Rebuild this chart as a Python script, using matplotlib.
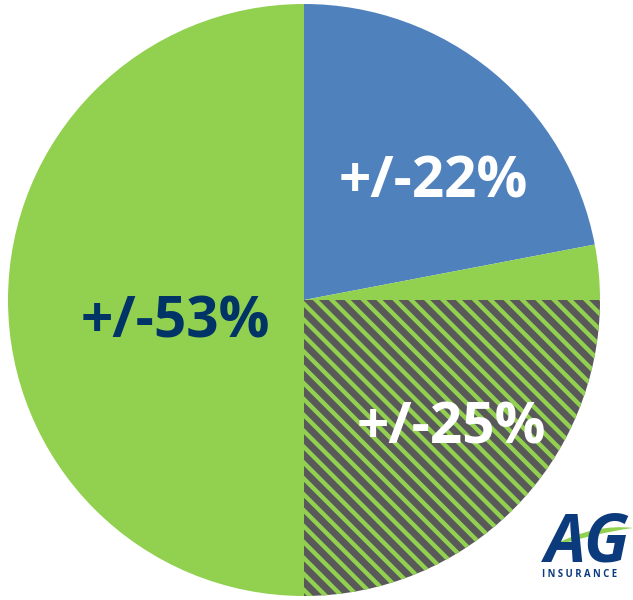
import matplotlib
matplotlib.use("Agg")
import matplotlib.pyplot as plt
from matplotlib.path import Path
from matplotlib.patches import PathPatch

# slices clockwise from 12 o'clock; the 53% green share is split in two pieces
slice_names = ["blue", "green_sliver", "hatched", "green_half"]
slice_values = [22, 3, 25, 50]
slice_colors = ["#4F81BD", "#92D050", "#595959", "#92D050"]

labels = ["+/-22%", "+/-53%", "+/-25%"]
label_colors = ["white", "#003366", "white"]

GREEN = "#92D050"
NAVY = "#0B3B7C"

DPI = 143
W, H = 633, 600

plt.rcParams["font.family"] = ["Open Sans", "DejaVu Sans"]
plt.rcParams["hatch.linewidth"] = 2.2

fig = plt.figure(figsize=(W / DPI, H / DPI), dpi=DPI)
ax = fig.add_axes([0, 0, 1, 1])

wedges, _ = ax.pie(
    slice_values,
    colors=slice_colors,
    startangle=90,
    counterclock=False,
    center=(304, H - 300),
    radius=296,
    frame=True,
    wedgeprops={"linewidth": 0},
)
ax.set_xlim(0, W)
ax.set_ylim(0, H)
ax.axis("off")

hatched = wedges[slice_names.index("hatched")]
hatched.set_hatch("\\\\\\")
hatched.set_edgecolor(GREEN)
hatched.set_linewidth(0)

# labels (x centre, baseline in pixel space)
label_pos = [(433, 197), (175, 337), (451, 443)]
for text, color, (x, y) in zip(labels, label_colors, label_pos):
    ax.text(x, H - y, text, color=color, fontsize=28.5, fontweight="bold",
            ha="center", va="baseline")

# AG Insurance logo
ax.text(545, H - 561, "AG", color=NAVY, fontsize=33, fontweight="bold",
        style="italic", ha="left", va="baseline", clip_on=False)
swoosh = Path(
    [(548, H - 548), (580, H - 530), (610, H - 525), (633, H - 528),
     (610, H - 531), (580, H - 538), (548, H - 548)],
    [Path.MOVETO, Path.CURVE4, Path.CURVE4, Path.CURVE4,
     Path.CURVE4, Path.CURVE4, Path.CURVE4],
)
ax.add_patch(PathPatch(swoosh, facecolor=GREEN, edgecolor="none"))
ax.text(580, H - 577, "I N S U R A N C E", color=NAVY, fontsize=4.8,
        fontweight="bold", ha="center", va="baseline")

fig.savefig("out.png", dpi=DPI)
